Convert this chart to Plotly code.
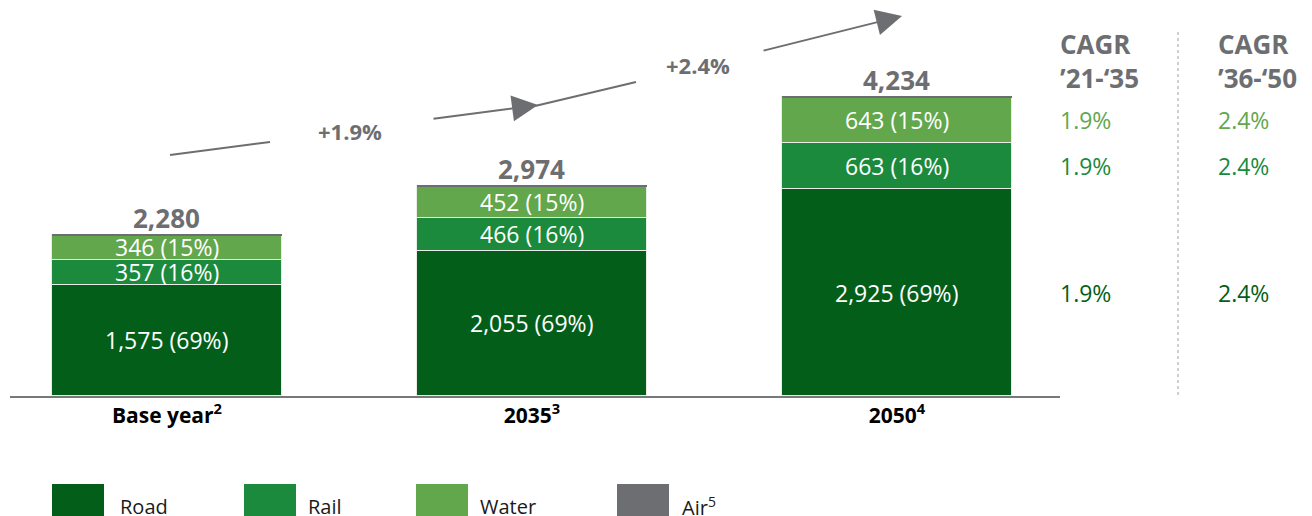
import plotly.graph_objects as go

# ---- data ----
categories = ["Base year", "2035", "2050"]
cat_labels = ["<b>Base year<sup>2</sup></b>", "<b>2035<sup>3</sup></b>", "<b>2050<sup>4</sup></b>"]
road = [1575, 2055, 2925]
rail = [357, 466, 663]
water = [346, 452, 643]
air = [2, 1, 3]
growth_labels = ["+1.9%", "+2.4%"]
cagr_headers = ["CAGR<br>’21-‘35", "CAGR<br>’36-‘50"]
cagr_21_35 = {"Water": "1.9%", "Rail": "1.9%", "Road": "1.9%"}
cagr_36_50 = {"Water": "2.4%", "Rail": "2.4%", "Road": "2.4%"}

C_ROAD = "#035e19"
C_RAIL = "#1b8a3c"
C_WATER = "#62a74c"
C_AIR = "#6d6e72"
GRAY = "#6d6e72"
FONT = "Open Sans"

x = [0, 1, 2]
totals = [r + ra + w + a for r, ra, w, a in zip(road, rail, water, air)]

fig = go.Figure()
series = [("Road", road, C_ROAD), ("Rail", rail, C_RAIL), ("Water", water, C_WATER), ("Air<sup>5</sup>", air, C_AIR)]
for name, vals, col in series:
    is_air = name.startswith("Air")
    fig.add_trace(go.Bar(
        x=x, y=vals, name=name, width=0.63,
        marker=dict(color=col, line=dict(color=(C_AIR if is_air else "#e8ede8"),
                                         width=(2 if is_air else 1))),
        hoverinfo="skip", showlegend=False,
    ))

ann = []
# segment labels
for i in range(3):
    base = 0
    for vals in (road, rail, water):
        v = vals[i]
        pct = round(100 * v / totals[i])
        ann.append(dict(x=x[i], y=base + v / 2, xref="x", yref="y", showarrow=False,
                        xanchor="center", yanchor="middle",
                        text=f"{v:,} ({pct}%)", font=dict(family=FONT, size=23, color="white")))
        base += v
    ann.append(dict(x=x[i], y=totals[i], xref="x", yref="y", showarrow=False, xanchor="center",
                    yanchor="bottom", yshift=-3, text=f"<b>{totals[i]:,}</b>",
                    font=dict(family=FONT, size=26, color=GRAY)))

# page pixel -> paper helpers (plot area on page: x 10..1060, y 10..396)
def px(v):
    return (v - 10) / 1050.0
def py(v):
    return (396 - v) / 386.0

# growth arrows
shapes = []
shapes.append(dict(type="line", xref="paper", yref="paper", x0=px(170), y0=py(155), x1=px(270), y1=py(142),
                   line=dict(color=GRAY, width=2)))
shapes.append(dict(type="line", xref="paper", yref="paper", x0=px(535), y0=py(106), x1=px(636), y1=py(82),
                   line=dict(color=GRAY, width=2)))
ann.append(dict(x=px(538), y=py(105), xref="paper", yref="paper", axref="pixel", ayref="pixel",
                ax=432 - 538, ay=119 - 105, showarrow=True, arrowhead=2, arrowsize=2.6, arrowwidth=2,
                arrowcolor=GRAY, text=""))
ann.append(dict(x=px(902), y=py(16), xref="paper", yref="paper", axref="pixel", ayref="pixel",
                ax=762 - 902, ay=51 - 16, showarrow=True, arrowhead=2, arrowsize=2.6, arrowwidth=2,
                arrowcolor=GRAY, text=""))
ann.append(dict(x=px(350), y=py(131), xref="paper", yref="paper", showarrow=False,
                xanchor="center", yanchor="middle",
                text=f"<b>{growth_labels[0]}</b>", font=dict(family=FONT, size=22, color=GRAY)))
ann.append(dict(x=px(698), y=py(65), xref="paper", yref="paper", showarrow=False,
                xanchor="center", yanchor="middle",
                text=f"<b>{growth_labels[1]}</b>", font=dict(family=FONT, size=22, color=GRAY)))

# CAGR columns
col_x = [1058, 1216]
for cx, hdr, vals in zip(col_x, cagr_headers, (cagr_21_35, cagr_36_50)):
    ann.append(dict(x=px(cx), y=py(61), xref="paper", yref="paper", showarrow=False, xanchor="left",
                    yanchor="middle", align="left", text=f"<b>{hdr}</b>",
                    font=dict(family=FONT, size=26, color=GRAY)))
    mids = {"Road": road[2] / 2, "Rail": road[2] + rail[2] / 2, "Water": road[2] + rail[2] + water[2] / 2}
    cols = {"Road": C_ROAD, "Rail": C_RAIL, "Water": C_WATER}
    for k in ("Water", "Rail", "Road"):
        ann.append(dict(x=px(cx), y=mids[k], xref="paper", yref="y", showarrow=False, xanchor="left",
                        yanchor="middle", text=vals[k], font=dict(family=FONT, size=23, color=cols[k])))

shapes.append(dict(type="line", xref="paper", yref="paper", x0=px(1178), x1=px(1178), y0=py(32), y1=py(398),
                   line=dict(color="#a0a0a0", width=1, dash="dot")))

# legend (drawn)
leg_sq = [52, 244, 416, 617]
leg_tx = [118, 306, 478, 680]
for (name, vals, col), sx, tx in zip(series, leg_sq, leg_tx):
    shapes.append(dict(type="rect", xref="paper", yref="paper", x0=px(sx), x1=px(sx + 52),
                       y0=py(520), y1=py(484), fillcolor=col, line=dict(width=0)))
    ann.append(dict(x=px(tx), y=py(506), xref="paper", yref="paper", showarrow=False, xanchor="left",
                    yanchor="middle", text=name, font=dict(family=FONT, size=20, color="#1a1a1a")))

# page has an 8px body margin, so the plot area (page 10..1060 x 10..396) sits at figure 2..1052 x 2..388
fig.update_layout(
    barmode="stack",
    bargap=0,
    width=1312, height=516,
    margin=dict(l=2, r=260, t=2, b=128),
    plot_bgcolor="white", paper_bgcolor="white",
    showlegend=False,
    annotations=ann,
    shapes=shapes,
    xaxis=dict(range=[-0.430, 2.447], tickvals=x, ticktext=cat_labels, showgrid=False, zeroline=False,
               showline=True, linecolor="#77787b", linewidth=2, ticks="",
               tickfont=dict(family=FONT, size=21, color="black"), fixedrange=True),
    yaxis=dict(range=[0, 5467], visible=False, showgrid=False, zeroline=False, fixedrange=True),
)

fig.write_html("out.html")
